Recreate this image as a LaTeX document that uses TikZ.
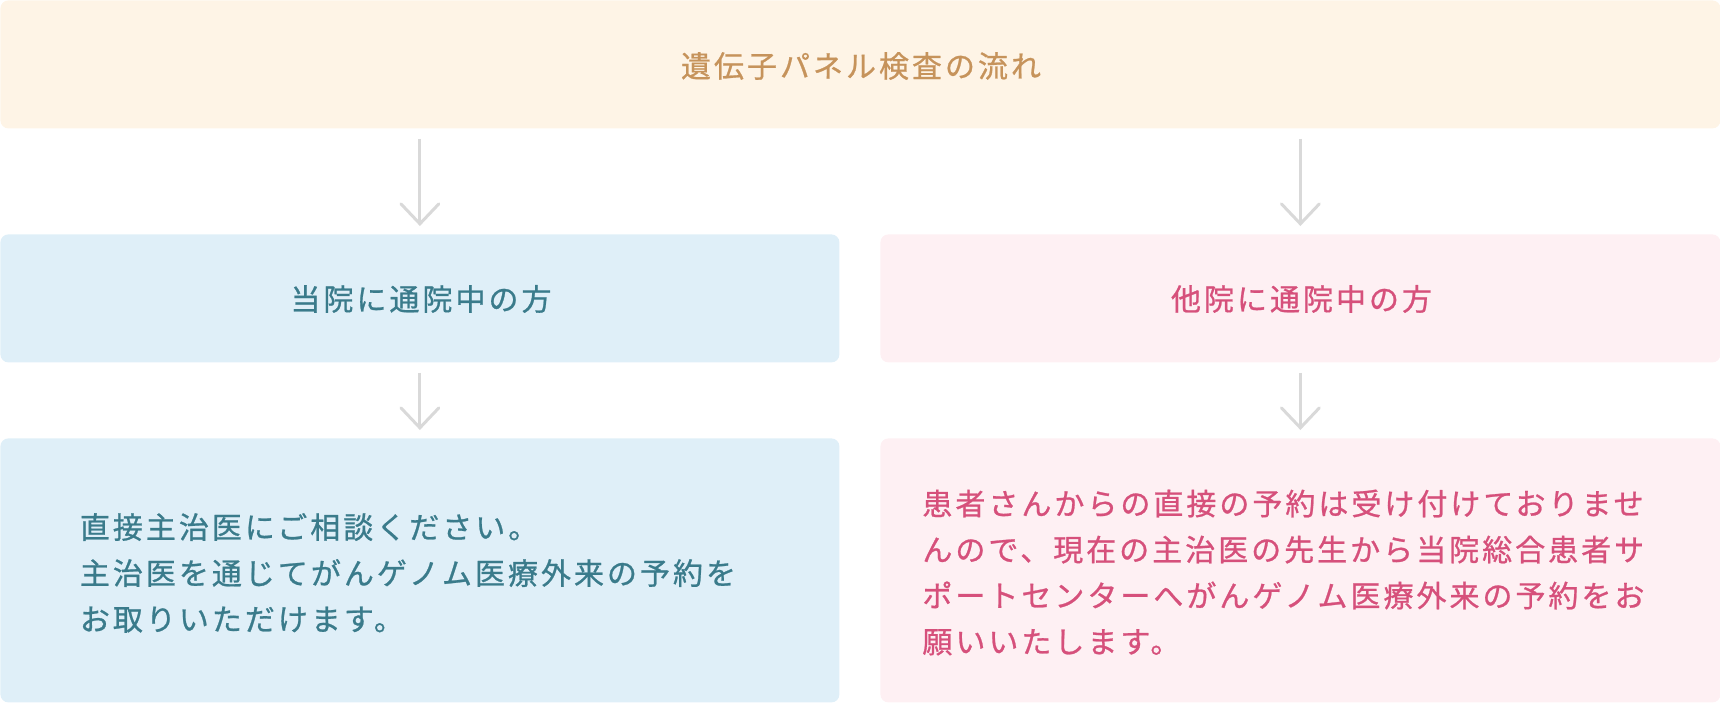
\documentclass[tikz,border=0pt]{standalone}
\usepackage{fontspec}
\usetikzlibrary{arrows.meta}
\newfontfamily\jpfont[LetterSpace=10,FakeBold=0.8]{Noto Sans CJK JP}
\definecolor{creambg}{HTML}{FEF4E6}
\definecolor{creamtext}{HTML}{C6935B}
\definecolor{bluebg}{HTML}{DFEFF8}
\definecolor{bluetext}{HTML}{3A7B8B}
\definecolor{pinkbg}{HTML}{FEF0F3}
\definecolor{pinktext}{HTML}{D6507B}
\definecolor{arrowgray}{HTML}{D9D9D9}

\begin{document}
\begin{tikzpicture}[x=0.5pt,y=-0.5pt,
    box/.style={rectangle,rounded corners=4pt,inner sep=0pt,anchor=north west},
    jptext/.style={font=\jpfont\fontsize{15}{23}\selectfont,inner sep=0pt},
    flow/.style={draw=arrowgray,line width=1.5pt,
                 -{Straight Barb[length=10pt,width=19pt,line cap=round]},
                 shorten <=5pt,shorten >=4pt}]
  \useasboundingbox (0,0) rectangle (1720,702);

  % boxes
  \path (0,0)     node[box,fill=creambg,minimum width=860pt,minimum height=64pt] (flowbox) {};
  \path (0,234)   node[box,fill=bluebg,minimum width=419.5pt,minimum height=64pt] (ownbox) {};
  \path (880,234) node[box,fill=pinkbg,minimum width=420pt,minimum height=64pt] (otherbox) {};
  \path (0,438)   node[box,fill=bluebg,minimum width=419.5pt,minimum height=132pt] (ownnote) {};
  \path (880,438) node[box,fill=pinkbg,minimum width=420pt,minimum height=132pt] (othernote) {};

  % texts
  \path (861,66)    node[jptext,text=creamtext] (flowtitle) {遺伝子パネル検査の流れ};
  \path (421,299)   node[jptext,text=bluetext] (owntitle) {当院に通院中の方};
  \path (1301.5,299) node[jptext,text=pinktext] (othertitle) {他院に通院中の方};
  \path (79.5,573)  node[jptext,text=bluetext,anchor=west,align=left] (owntext)
    {直接主治医にご相談ください。\\主治医を通じてがんゲノム医療外来の予約を\\お取りいただけます。};
  \path (922,572.5) node[jptext,text=pinktext,anchor=west,align=left] (othertext)
    {患者さんからの直接の予約は受け付けておりませ\\んので、現在の主治医の先生から当院総合患者サ\\ポートセンターへがんゲノム医療外来の予約をお\\願いいたします。};

  % arrows
  \draw[flow] (ownbox.north |- flowbox.south) -- (ownbox.north);
  \draw[flow] (otherbox.north |- flowbox.south) -- (otherbox.north);
  \draw[flow] (ownbox.south) -- (ownnote.north);
  \draw[flow] (otherbox.south) -- (othernote.north);
\end{tikzpicture}
\end{document}
